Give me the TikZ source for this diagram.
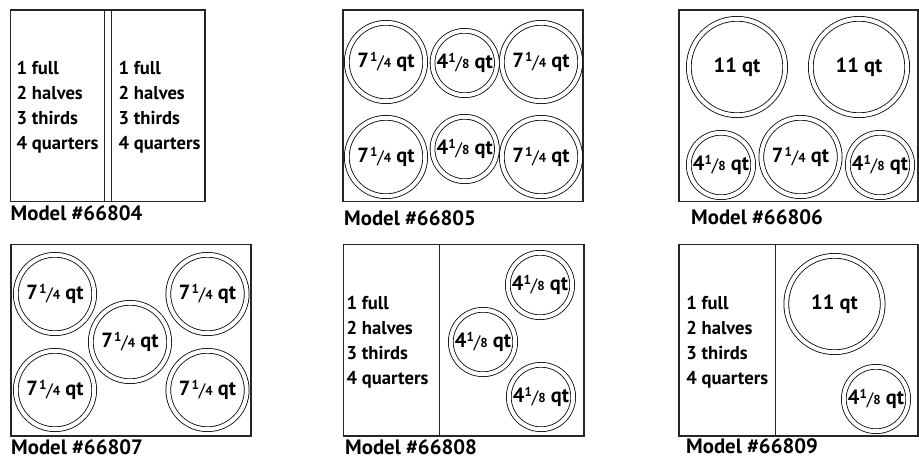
\documentclass[tikz,border=0pt]{standalone}
\usepackage{fontspec}
\setmainfont{PT Sans}
\newcommand\qfr[2]{\raisebox{0.32em}{\fontsize{13}{13}\selectfont #1}\raisebox{-0.03em}{\fontsize{18}{18}\selectfont\mdseries/}{\fontsize{13}{13}\selectfont #2}}
\tikzset{
  frame/.style={draw=black!85, line width=1.2pt},
  divline/.style={draw=black!85, line width=1pt},
  pan/.style={circle, draw=black, double=white, double distance=4pt, line width=0.8pt, inner sep=0pt, font=\bfseries\fontsize{20.5}{20.5}\selectfont},
  pbig/.style={pan, minimum size=96.4pt},
  pmid/.style={pan, minimum size=78.4pt},
  psmall/.style={pan, minimum size=64.4pt},
  listtext/.style={anchor=west, align=left, inner sep=0pt, font=\bfseries\fontsize{18.6}{25}\selectfont},
  model/.style={anchor=west, inner sep=0pt, font=\bfseries\fontsize{20.8}{20.8}\selectfont},
}
\newcommand\sev{7\kern0.05em\qfr{1}{4} qt}
\newcommand\fou{4\qfr{1}{8} qt}
\begin{document}
\begin{tikzpicture}[x=1pt,y=-1pt]
\useasboundingbox (0,0) rectangle (919,459);
% ---------- Model 66804
\draw[frame] (10.5,10) rectangle (205,201.5);
\draw[divline] (104,10) -- (104,201.5);
\draw[divline] (111.5,10) -- (111.5,201.5);
\node[listtext] (l1a) at (16.5,107) {1 full\\2 halves\\3 thirds\\4 quarters};
\node[listtext] (l1b) at (118.5,107) {1 full\\2 halves\\3 thirds\\4 quarters};
\node[model] (m1) at (10.5,213) {Model \#66804};
% ---------- Model 66805
\draw[frame] (343,10) rectangle (583,201.5);
\node[pmid] (c2a) at (386,62) {\sev};
\node[psmall] (c2b) at (464.7,63) {\fou};
\node[pmid] (c2c) at (541,62) {\sev};
\node[pmid] (c2d) at (386,157) {\sev};
\node[psmall] (c2e) at (464.7,149) {\fou};
\node[pmid] (c2f) at (541,157) {\sev};
\node[model] (m2) at (344,218) {Model \#66805};
% ---------- Model 66806
\draw[frame] (679,10) rectangle (918,201.5);
\node[pbig] (c3a) at (737,67) {11 qt};
\node[pbig] (c3b) at (859,67) {11 qt};
\node[psmall] (c3c) at (721,165) {\fou};
\node[pmid] (c3d) at (800.5,157) {\sev};
\node[psmall] (c3e) at (880,165) {\fou};
\node[model] (m3) at (691,217) {Model \#66806};
% ---------- Model 66807
\draw[frame] (11,244.5) rectangle (251,436);
\node[pmid] (c4a) at (55,294) {\sev};
\node[pmid] (c4b) at (207.5,294) {\sev};
\node[pmid] (c4c) at (130,342) {\sev};
\node[pmid] (c4d) at (55,390) {\sev};
\node[pmid] (c4e) at (207.5,390) {\sev};
\node[model] (m4) at (11,447) {Model \#66807};
% ---------- Model 66808
\draw[frame] (343.3,244.5) rectangle (584,436);
\draw[divline] (439.3,244.5) -- (439.3,436);
\node[listtext] (l5) at (346.5,342) {1 full\\2 halves\\3 thirds\\4 quarters};
\node[psmall] (c5a) at (540,285) {\fou};
\node[psmall] (c5b) at (483,342) {\fou};
\node[psmall] (c5c) at (541,397) {\fou};
\node[model] (m5) at (345,447) {Model \#66808};
% ---------- Model 66809
\draw[frame] (679,244.5) rectangle (918,436);
\draw[divline] (775.7,244.5) -- (775.7,436);
\node[listtext] (l6) at (686.2,342) {1 full\\2 halves\\3 thirds\\4 quarters};
\node[pbig] (c6a) at (834.5,304) {11 qt};
\node[psmall] (c6b) at (876,399) {\fou};
\node[model] (m6) at (686,446.5) {Model \#66809};
\end{tikzpicture}
\end{document}
